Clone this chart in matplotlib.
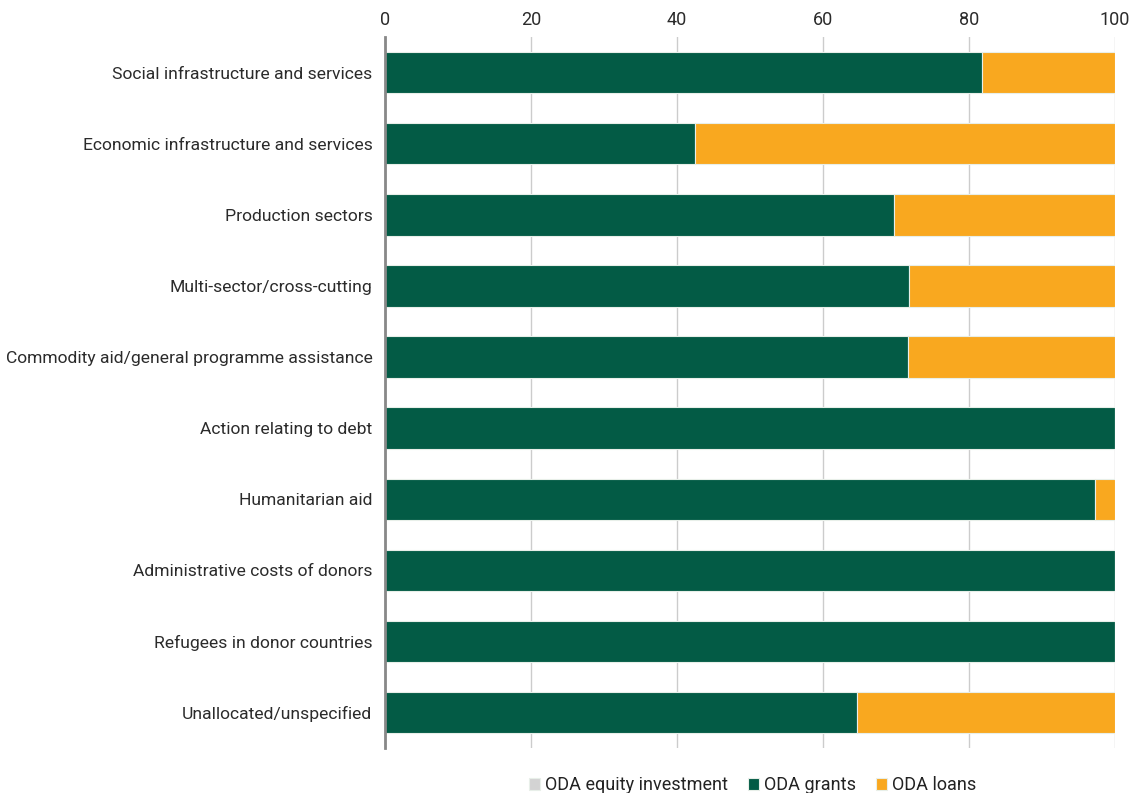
import matplotlib
matplotlib.use("Agg")
import matplotlib.pyplot as plt
import numpy as np

categories = [
    "Social infrastructure and services",
    "Economic infrastructure and services",
    "Production sectors",
    "Multi-sector/cross-cutting",
    "Commodity aid/general programme assistance",
    "Action relating to debt",
    "Humanitarian aid",
    "Administrative costs of donors",
    "Refugees in donor countries",
    "Unallocated/unspecified",
]
equity = [0.0, 0.0, 0.0, 0.0, 0.0, 0.0, 0.0, 0.0, 0.0, 0.0]
grants = [81.8, 42.5, 69.7, 71.8, 71.6, 100.0, 97.3, 100.0, 100.0, 64.7]
loans = [18.2, 57.5, 30.3, 28.2, 28.4, 0.0, 2.7, 0.0, 0.0, 35.3]
xticks = [0, 20, 40, 60, 80, 100]
series_names = ["ODA equity investment", "ODA grants", "ODA loans"]
colors = ["#d3d3d3", "#035b45", "#f9a81f"]

plt.rcParams["font.family"] = ["Roboto", "DejaVu Sans"]

fig = plt.figure(figsize=(11.32, 7.93), dpi=100)
ax = fig.add_axes([0.340, 0.057, 0.645, 0.896])

y = np.arange(len(categories))
h = 0.58
left = np.zeros(len(categories))
for vals, name, c in zip([equity, grants, loans], series_names, colors):
    vals = np.array(vals)
    ax.barh(y, vals, left=left, height=h, color=c, label=name,
            edgecolor="#e8efe9", linewidth=0.8, zorder=3)
    left = left + vals

ax.set_xlim(0, 100)
ax.set_ylim(len(categories) - 0.5, -0.5)
ax.set_yticks(y)
ax.set_yticklabels(categories, fontsize=12.6, color="#2b2b2b")
ax.set_xticks(xticks)
ax.set_xticklabels([str(t) for t in xticks], fontsize=13, color="#2b2b2b")
ax.xaxis.tick_top()
ax.tick_params(axis="x", length=0, pad=6)
ax.tick_params(axis="y", length=0, pad=9)
ax.grid(axis="x", color="#cccccc", linewidth=1, zorder=0)
for s in ["top", "right", "bottom"]:
    ax.spines[s].set_visible(False)
ax.spines["left"].set_color("#888888")
ax.spines["left"].set_linewidth(2)
ax.spines["left"].set_zorder(4)

leg = fig.legend(loc="lower center", bbox_to_anchor=(0.665, -0.022), ncol=3, frameon=False,
                 fontsize=13, handlelength=0.6, handleheight=0.6, handletextpad=0.3,
                 columnspacing=1.1)
for t in leg.get_texts():
    t.set_color("#222222")

fig.savefig("out.png", dpi=100)
